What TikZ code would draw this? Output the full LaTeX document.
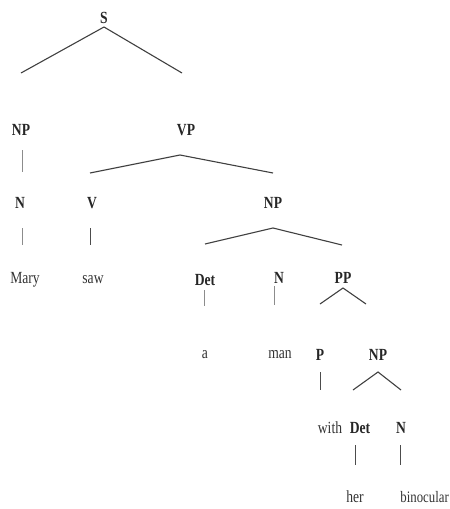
\documentclass[tikz,border=0pt]{standalone}
\usepackage{fontspec}
\setmainfont{Liberation Serif}[FakeStretch=0.8]
\begin{document}
\begin{tikzpicture}[x=1pt,y=-1pt,
  cat/.style={font=\fontsize{17}{17}\selectfont\bfseries, text=black!85, inner sep=0pt},
  word/.style={font=\fontsize{17}{17}\selectfont, text=black!80, inner sep=0pt},
  branch/.style={draw=black!75, line width=1.1pt},
  stem/.style={draw=black!45, line width=0.8pt},
  stemd/.style={draw=black!70, line width=0.9pt}]
\useasboundingbox (0,0) rectangle (450,509);
% nodes
\node[cat] (S) at (104,18) {S};
\node[cat] (NPa) at (21,130) {NP};
\node[cat] (VP) at (186,130) {VP};
\node[cat] (Na) at (20,203) {N};
\node[cat] (V) at (92,203) {V};
\node[cat] (NPb) at (273,203) {NP};
\node[word] (Mary) at (25,280) {Mary};
\node[word] (saw) at (93,280) {saw};
\node[cat] (Deta) at (205,280) {Det};
\node[cat] (Nb) at (279,278) {N};
\node[cat] (PP) at (343,278) {PP};
\node[word] (a) at (205,355) {a};
\node[word] (man) at (280,355) {man};
\node[cat] (P) at (320,355) {P};
\node[cat] (NPc) at (378,355) {NP};
\node[word] (with) at (330,428) {with};
\node[cat] (Detb) at (360,428) {Det};
\node[cat] (Nc) at (401,428) {N};
\node[word] (her) at (355,497) {her};
\node[word, anchor=east, font=\fontsize{16}{16}\selectfont] (bin) at (449,497) {binocular};
% coordinates for branch ends
\coordinate (s0) at (104,27); \coordinate (s1) at (21,73); \coordinate (s2) at (182,73);
\coordinate (np0) at (22,150); \coordinate (np1) at (22,172);
\coordinate (vp0) at (180,155); \coordinate (vp1) at (90,173); \coordinate (vp2) at (273,173);
\coordinate (n0) at (22,228); \coordinate (n1) at (22,245);
\coordinate (v0) at (90,228); \coordinate (v1) at (90,245);
\coordinate (npb0) at (273,228); \coordinate (npb1) at (205,244); \coordinate (npb2) at (342,245);
\coordinate (d0) at (204,290); \coordinate (d1) at (204,306);
\coordinate (nb0) at (274,286); \coordinate (nb1) at (274,305);
\coordinate (pp0) at (343,288); \coordinate (pp1) at (320,304); \coordinate (pp2) at (366,304);
\coordinate (p0) at (320,372); \coordinate (p1) at (320,390);
\coordinate (npc0) at (378,372); \coordinate (npc1) at (353,390); \coordinate (npc2) at (401,390);
\coordinate (db0) at (355,445); \coordinate (db1) at (355,465);
\coordinate (nc0) at (400,445); \coordinate (nc1) at (400,465);
% connectors
\draw[branch] (s1) -- (s0) -- (s2);
\draw[stem] (np0) -- (np1);
\draw[branch] (vp1) -- (vp0) -- (vp2);
\draw[stem] (n0) -- (n1);
\draw[stemd] (v0) -- (v1);
\draw[branch] (npb1) -- (npb0) -- (npb2);
\draw[stem] (d0) -- (d1);
\draw[stem] (nb0) -- (nb1);
\draw[branch] (pp1) -- (pp0) -- (pp2);
\draw[stemd] (p0) -- (p1);
\draw[branch] (npc1) -- (npc0) -- (npc2);
\draw[stemd] (db0) -- (db1);
\draw[stemd] (nc0) -- (nc1);
\end{tikzpicture}
\end{document}
